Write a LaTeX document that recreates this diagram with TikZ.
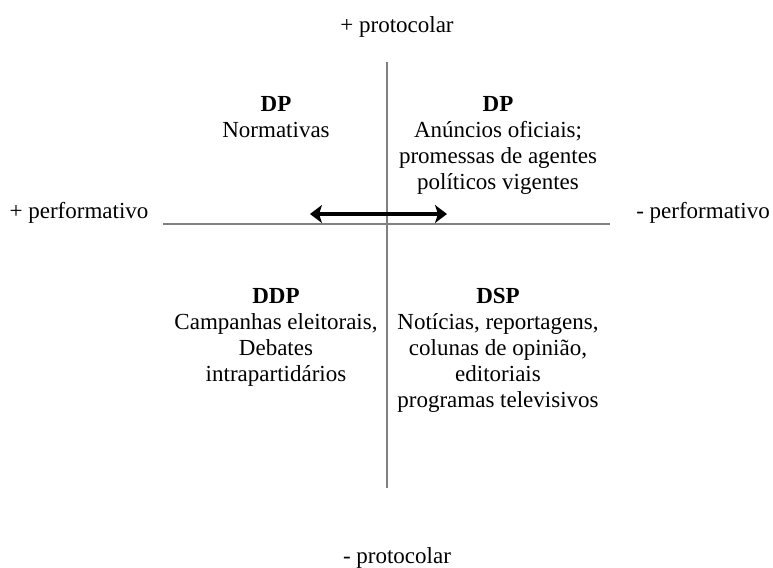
\documentclass[tikz,border=0pt]{standalone}
\usepackage{fontspec}
\setmainfont{Liberation Serif}
\usetikzlibrary{arrows.meta}

\begin{document}
\begin{tikzpicture}[x=0.5pt,y=-0.5pt,
          every node/.style={inner sep=0pt,font=\fontsize{11.5}{13}\selectfont},
          axis/.style={black!50,line width=0.6pt},
          quad/.style={align=center,anchor=north},
          >={Stealth[length=6pt,width=9pt,inset=1.5pt]}]
          \useasboundingbox (0,0) rectangle (773,568);
          % eixos
          \coordinate (top) at (387,62);
          \coordinate (bot) at (387,488);
          \coordinate (lft) at (163,224);
          \coordinate (rgt) at (610,224);
          \draw[axis](top)--(bot);
          \draw[axis](lft)--(rgt);
          \coordinate (arrL) at (310,214);
          \coordinate (arrR) at (447,214);
          \draw[<->,line width=2pt](arrL)--(arrR);
          % rotulos dos eixos
          \node[anchor=base] (maisProt) at (397,32) {+ protocolar};
          \node[anchor=base] (menosProt) at (397,563) {- protocolar};
          \node[anchor=base] (maisPerf) at (79,218) {+ performativo};
          \node[anchor=base] (menosPerf) at (703,218) {- performativo};
          % quadrantes
          \node[quad] (dpNorm) at (276,96) {\textbf{DP}\\Normativas};
          \node[quad] (dpAnun) at (498,96) {\textbf{DP}\\Anúncios oficiais;\\promessas de agentes\\políticos vigentes};
          \node[quad] (ddp) at (276,288) {\textbf{DDP}\\Campanhas eleitorais,\\Debates\\intrapartidários};
          \node[quad] (dsp) at (498,288) {\textbf{DSP}\\Notícias, reportagens,\\colunas de opinião,\\editoriais\\programas televisivos};
\end{tikzpicture}
\end{document}
